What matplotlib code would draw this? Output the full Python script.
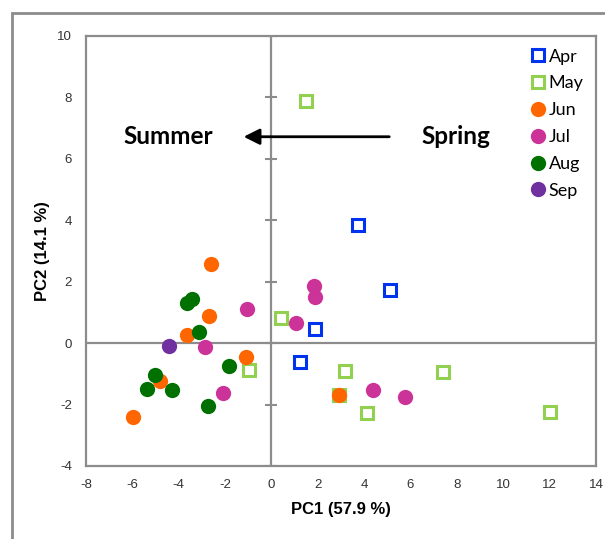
import matplotlib.pyplot as plt
from matplotlib.patches import Rectangle

# PCA scores, one pair of lists per month
apr_x = [3.72, 5.10, 1.86, 1.22]
apr_y = [3.85, 1.73, 0.45, -0.62]
may_x = [1.51, 0.43, -0.95, 3.17, 2.92, 4.13, 7.40, 12.0]
may_y = [7.87, 0.81, -0.88, -0.91, -1.70, -2.28, -0.95, -2.23]
jun_x = [-2.61, -2.69, -3.66, -1.08, -4.81, -5.99, 2.92]
jun_y = [2.57, 0.89, 0.27, -0.46, -1.23, -2.39, -1.68]
jul_x = [-1.05, -2.87, -2.09, 1.83, 1.87, 1.05, 4.36, 5.75]
jul_y = [1.10, -0.12, -1.63, 1.85, 1.51, 0.66, -1.54, -1.76]
aug_x = [-3.43, -3.64, -3.12, -1.82, -5.03, -5.37, -4.31, -2.74]
aug_y = [1.45, 1.32, 0.37, -0.75, -1.04, -1.48, -1.51, -2.06]
sep_x = [-4.44]
sep_y = [-0.10]

x_ticks = [-8, -6, -4, -2, 0, 2, 4, 6, 8, 10, 12, 14]
y_ticks = [-4, -2, 0, 2, 4, 6, 8, 10]

GRAY = '#8c8c8c'
plt.rcParams['font.family'] = ['Liberation Sans', 'DejaVu Sans']
plt.rcParams['axes.unicode_minus'] = False

fig = plt.figure(figsize=(6.05, 5.39), dpi=100)
ax = fig.add_axes([86 / 605, 1 - 466 / 539, 510 / 605, 430 / 539])

# outer frame of the original slide/figure
fig.patches.append(Rectangle((12 / 605, -0.05), 1.1, 1 - 13 / 539 + 0.05,
                             transform=fig.transFigure, fill=False,
                             edgecolor=GRAY, linewidth=2))

ax.axhline(0, color=GRAY, lw=1.6, zorder=1)
ax.axvline(0, color=GRAY, lw=1.6, zorder=1)
ax.plot([0] * len(y_ticks), y_ticks, ls='none', marker='_', ms=8,
        mew=1.5, color=GRAY, zorder=1)

sq = dict(marker='s', ls='none', ms=9, mew=2.2, mfc='white', zorder=3)
ci = dict(marker='o', ls='none', ms=11, mew=0, zorder=3)
ax.plot(apr_x, apr_y, color='#0033ee', label='Apr', **sq)
ax.plot(may_x, may_y, color='#92d050', label='May', **sq)
ax.plot(jun_x, jun_y, color='#ff6600', label='Jun', **ci)
ax.plot(jul_x, jul_y, color='#cc3399', label='Jul', **ci)
ax.plot(aug_x, aug_y, color='#007000', label='Aug', **ci)
ax.plot(sep_x, sep_y, color='#7030a0', label='Sep', **ci)

ax.set_xlim(-8, 14)
ax.set_ylim(-4, 10)
ax.set_xticks(x_ticks)
ax.set_yticks(y_ticks)
ax.tick_params(length=0, labelsize=9.5, labelcolor='#333333')
ax.tick_params(axis='y', pad=10)
ax.tick_params(axis='x', pad=9)
for s in ax.spines.values():
    s.set_color(GRAY)
    s.set_linewidth(1.6)

ax.set_xlabel('PC1 (57.9 %)', fontsize=12, fontweight='bold', labelpad=8)
ax.set_ylabel('PC2 (14.1 %)', fontsize=12, fontweight='bold', labelpad=5)

# season arrow
ax.annotate('', xy=(-1.32, 6.72), xytext=(5.2, 6.72),
            arrowprops=dict(arrowstyle='-|>', color='black', lw=2,
                            mutation_scale=24))
ax.text(-4.45, 6.72, 'Summer', ha='center', va='center', fontsize=17.5,
        fontweight='bold', family='Lato')
ax.text(7.95, 6.72, 'Spring', ha='center', va='center', fontsize=17.5,
        fontweight='bold', family='Lato')

ax.legend(loc='upper right', frameon=False, prop={'family': 'Lato', 'size': 13},
          handletextpad=0.1, labelspacing=0.6, handlelength=1.0,
          borderaxespad=0.3, markerscale=1.0)

fig.savefig('out.png', dpi=100)
